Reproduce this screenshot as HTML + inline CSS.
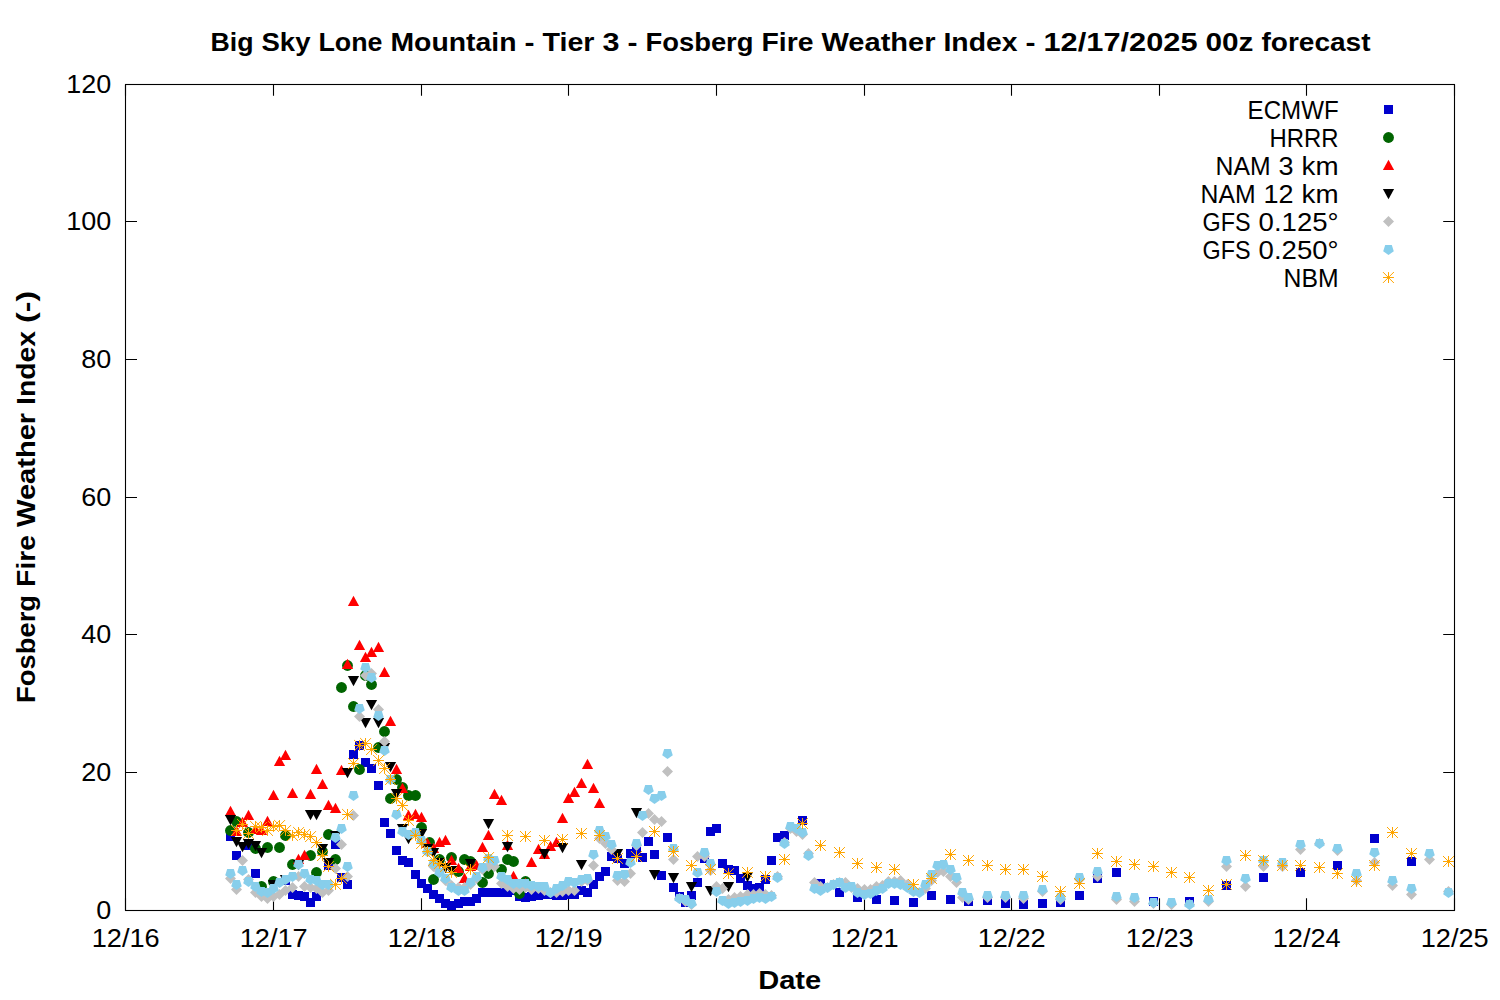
<!DOCTYPE html>
<html><head><meta charset="utf-8"><title>Fosberg Fire Weather Index</title>
<style>
html,body{margin:0;padding:0;background:#fff;}
body{width:1500px;height:1000px;overflow:hidden;}
svg{display:block;}
text{font-family:"Liberation Sans",sans-serif;fill:#000;}
</style></head><body>
<svg width="1500" height="1000" viewBox="0 0 1500 1000">
<rect width="1500" height="1000" fill="#fff"/>
<path d="M125.5 910.5h11.5M1454.5 910.5h-11.3M125.5 772.5h11.5M1454.5 772.5h-11.3M125.5 634.5h11.5M1454.5 634.5h-11.3M125.5 497.5h11.5M1454.5 497.5h-11.3M125.5 359.5h11.5M1454.5 359.5h-11.3M125.5 221.5h11.5M1454.5 221.5h-11.3M125.5 84.5h11.5M1454.5 84.5h-11.3M125.5 910.5v-12.3M125.5 84.5v11.3M273.5 910.5v-12.3M273.5 84.5v11.3M421.5 910.5v-12.3M421.5 84.5v11.3M568.5 910.5v-12.3M568.5 84.5v11.3M716.5 910.5v-12.3M716.5 84.5v11.3M864.5 910.5v-12.3M864.5 84.5v11.3M1011.5 910.5v-12.3M1011.5 84.5v11.3M1159.5 910.5v-12.3M1159.5 84.5v11.3M1306.5 910.5v-12.3M1306.5 84.5v11.3M1454.5 910.5v-12.3M1454.5 84.5v11.3" stroke="#000" stroke-width="1.1" fill="none"/>
<g fill="#0000cd">
<rect x="226" y="832" width="9" height="9"/><rect x="232" y="851" width="9" height="9"/><rect x="244" y="841" width="9" height="9"/><rect x="251" y="869" width="9" height="9"/><rect x="281" y="876" width="9" height="9"/><rect x="288" y="890" width="9" height="9"/><rect x="294" y="891" width="9" height="9"/><rect x="300" y="892" width="9" height="9"/><rect x="306" y="898" width="9" height="9"/><rect x="312" y="892" width="9" height="9"/><rect x="324" y="861" width="9" height="9"/><rect x="331" y="840" width="9" height="9"/><rect x="337" y="873" width="9" height="9"/><rect x="343" y="880" width="9" height="9"/><rect x="349" y="750" width="9" height="9"/><rect x="355" y="741" width="9" height="9"/><rect x="361" y="758" width="9" height="9"/><rect x="367" y="764" width="9" height="9"/><rect x="374" y="781" width="9" height="9"/><rect x="380" y="818" width="9" height="9"/><rect x="386" y="829" width="9" height="9"/><rect x="392" y="846" width="9" height="9"/><rect x="398" y="856" width="9" height="9"/><rect x="404" y="858" width="9" height="9"/><rect x="411" y="870" width="9" height="9"/><rect x="417" y="879" width="9" height="9"/><rect x="423" y="884" width="9" height="9"/><rect x="429" y="890" width="9" height="9"/><rect x="435" y="894" width="9" height="9"/><rect x="441" y="899" width="9" height="9"/><rect x="447" y="901" width="9" height="9"/><rect x="454" y="899" width="9" height="9"/><rect x="460" y="897" width="9" height="9"/><rect x="466" y="897" width="9" height="9"/><rect x="472" y="894" width="9" height="9"/><rect x="478" y="888" width="9" height="9"/><rect x="484" y="888" width="9" height="9"/><rect x="490" y="888" width="9" height="9"/><rect x="497" y="888" width="9" height="9"/><rect x="503" y="888" width="9" height="9"/><rect x="509" y="886" width="9" height="9"/><rect x="515" y="892" width="9" height="9"/><rect x="521" y="893" width="9" height="9"/><rect x="527" y="892" width="9" height="9"/><rect x="534" y="891" width="9" height="9"/><rect x="540" y="890" width="9" height="9"/><rect x="546" y="890" width="9" height="9"/><rect x="552" y="891" width="9" height="9"/><rect x="558" y="891" width="9" height="9"/><rect x="564" y="890" width="9" height="9"/><rect x="570" y="890" width="9" height="9"/><rect x="577" y="886" width="9" height="9"/><rect x="583" y="888" width="9" height="9"/><rect x="589" y="880" width="9" height="9"/><rect x="595" y="872" width="9" height="9"/><rect x="601" y="867" width="9" height="9"/><rect x="607" y="852" width="9" height="9"/><rect x="613" y="854" width="9" height="9"/><rect x="620" y="859" width="9" height="9"/><rect x="626" y="849" width="9" height="9"/><rect x="632" y="847" width="9" height="9"/><rect x="638" y="853" width="9" height="9"/><rect x="644" y="837" width="9" height="9"/><rect x="650" y="850" width="9" height="9"/><rect x="657" y="871" width="9" height="9"/><rect x="663" y="833" width="9" height="9"/><rect x="669" y="883" width="9" height="9"/><rect x="675" y="892" width="9" height="9"/><rect x="681" y="898" width="9" height="9"/><rect x="687" y="891" width="9" height="9"/><rect x="693" y="878" width="9" height="9"/><rect x="700" y="854" width="9" height="9"/><rect x="706" y="827" width="9" height="9"/><rect x="712" y="824" width="9" height="9"/><rect x="718" y="859" width="9" height="9"/><rect x="724" y="865" width="9" height="9"/><rect x="730" y="866" width="9" height="9"/><rect x="736" y="874" width="9" height="9"/><rect x="743" y="881" width="9" height="9"/><rect x="749" y="884" width="9" height="9"/><rect x="755" y="883" width="9" height="9"/><rect x="761" y="875" width="9" height="9"/><rect x="767" y="856" width="9" height="9"/><rect x="773" y="833" width="9" height="9"/><rect x="780" y="831" width="9" height="9"/><rect x="798" y="816" width="9" height="9"/><rect x="816" y="879" width="9" height="9"/><rect x="835" y="888" width="9" height="9"/><rect x="853" y="893" width="9" height="9"/><rect x="872" y="895" width="9" height="9"/><rect x="890" y="896" width="9" height="9"/><rect x="909" y="898" width="9" height="9"/><rect x="927" y="891" width="9" height="9"/><rect x="946" y="895" width="9" height="9"/><rect x="964" y="897" width="9" height="9"/><rect x="983" y="896" width="9" height="9"/><rect x="1001" y="899" width="9" height="9"/><rect x="1019" y="900" width="9" height="9"/><rect x="1038" y="899" width="9" height="9"/><rect x="1056" y="898" width="9" height="9"/><rect x="1075" y="891" width="9" height="9"/><rect x="1093" y="874" width="9" height="9"/><rect x="1112" y="868" width="9" height="9"/><rect x="1149" y="897" width="9" height="9"/><rect x="1185" y="897" width="9" height="9"/><rect x="1222" y="881" width="9" height="9"/><rect x="1259" y="873" width="9" height="9"/><rect x="1296" y="868" width="9" height="9"/><rect x="1333" y="861" width="9" height="9"/><rect x="1370" y="834" width="9" height="9"/><rect x="1407" y="857" width="9" height="9"/>
</g>
<g fill="#006400">
<circle cx="230.5" cy="830.5" r="5.45"/><circle cx="236.5" cy="821.5" r="5.45"/><circle cx="248.5" cy="832.5" r="5.45"/><circle cx="255.5" cy="848.5" r="5.45"/><circle cx="261.5" cy="886.5" r="5.45"/><circle cx="267.5" cy="847.5" r="5.45"/><circle cx="273.5" cy="881.5" r="5.45"/><circle cx="279.5" cy="847.5" r="5.45"/><circle cx="285.5" cy="835.5" r="5.45"/><circle cx="292.5" cy="864.5" r="5.45"/><circle cx="328.5" cy="834.5" r="5.45"/><circle cx="310.5" cy="855.5" r="5.45"/><circle cx="316.5" cy="872.5" r="5.45"/><circle cx="322.5" cy="851.5" r="5.45"/><circle cx="335.5" cy="859.5" r="5.45"/><circle cx="341.5" cy="687.5" r="5.45"/><circle cx="347.5" cy="665.5" r="5.45"/><circle cx="353.5" cy="706.5" r="5.45"/><circle cx="359.5" cy="769.5" r="5.45"/><circle cx="365.5" cy="675.5" r="5.45"/><circle cx="371.5" cy="684.5" r="5.45"/><circle cx="378.5" cy="747.5" r="5.45"/><circle cx="384.5" cy="731.5" r="5.45"/><circle cx="390.5" cy="798.5" r="5.45"/><circle cx="396.5" cy="779.5" r="5.45"/><circle cx="402.5" cy="787.5" r="5.45"/><circle cx="408.5" cy="795.5" r="5.45"/><circle cx="415.5" cy="795.5" r="5.45"/><circle cx="421.5" cy="827.5" r="5.45"/><circle cx="429.5" cy="842.5" r="5.45"/><circle cx="439.5" cy="859.5" r="5.45"/><circle cx="451.5" cy="857.5" r="5.45"/><circle cx="433.5" cy="879.5" r="5.45"/><circle cx="458.5" cy="871.5" r="5.45"/><circle cx="464.5" cy="859.5" r="5.45"/><circle cx="470.5" cy="861.5" r="5.45"/><circle cx="482.5" cy="882.5" r="5.45"/><circle cx="488.5" cy="873.5" r="5.45"/><circle cx="501.5" cy="869.5" r="5.45"/><circle cx="507.5" cy="859.5" r="5.45"/><circle cx="513.5" cy="861.5" r="5.45"/><circle cx="519.5" cy="893.5" r="5.45"/><circle cx="525.5" cy="881.5" r="5.45"/>
</g>
<g fill="#ff0000">
<path d="M230.5 805.7l5.6 10.3h-11.2z"/><path d="M236.5 825.7l5.6 10.3h-11.2z"/><path d="M242.5 816.7l5.6 10.3h-11.2z"/><path d="M248.5 809.7l5.6 10.3h-11.2z"/><path d="M255.5 823.7l5.6 10.3h-11.2z"/><path d="M261.5 824.7l5.6 10.3h-11.2z"/><path d="M267.5 815.7l5.6 10.3h-11.2z"/><path d="M273.5 789.7l5.6 10.3h-11.2z"/><path d="M279.5 755.7l5.6 10.3h-11.2z"/><path d="M285.5 749.7l5.6 10.3h-11.2z"/><path d="M292.5 787.7l5.6 10.3h-11.2z"/><path d="M310.5 788.7l5.6 10.3h-11.2z"/><path d="M316.5 763.7l5.6 10.3h-11.2z"/><path d="M322.5 778.7l5.6 10.3h-11.2z"/><path d="M328.5 799.7l5.6 10.3h-11.2z"/><path d="M335.5 802.7l5.6 10.3h-11.2z"/><path d="M341.5 764.7l5.6 10.3h-11.2z"/><path d="M298.5 853.7l5.6 10.3h-11.2z"/><path d="M304.5 849.7l5.6 10.3h-11.2z"/><path d="M347.5 658.7l5.6 10.3h-11.2z"/><path d="M353.5 595.7l5.6 10.3h-11.2z"/><path d="M359.5 639.7l5.6 10.3h-11.2z"/><path d="M365.5 651.7l5.6 10.3h-11.2z"/><path d="M371.5 646.7l5.6 10.3h-11.2z"/><path d="M378.5 641.7l5.6 10.3h-11.2z"/><path d="M384.5 666.7l5.6 10.3h-11.2z"/><path d="M390.5 715.7l5.6 10.3h-11.2z"/><path d="M396.5 763.7l5.6 10.3h-11.2z"/><path d="M402.5 782.7l5.6 10.3h-11.2z"/><path d="M408.5 809.7l5.6 10.3h-11.2z"/><path d="M415.5 808.7l5.6 10.3h-11.2z"/><path d="M421.5 811.7l5.6 10.3h-11.2z"/><path d="M427.5 837.7l5.6 10.3h-11.2z"/><path d="M433.5 842.7l5.6 10.3h-11.2z"/><path d="M439.5 836.7l5.6 10.3h-11.2z"/><path d="M445.5 834.7l5.6 10.3h-11.2z"/><path d="M451.5 854.7l5.6 10.3h-11.2z"/><path d="M458.5 862.7l5.6 10.3h-11.2z"/><path d="M464.5 872.7l5.6 10.3h-11.2z"/><path d="M470.5 860.7l5.6 10.3h-11.2z"/><path d="M476.5 859.7l5.6 10.3h-11.2z"/><path d="M482.5 841.7l5.6 10.3h-11.2z"/><path d="M488.5 829.7l5.6 10.3h-11.2z"/><path d="M507.5 839.7l5.6 10.3h-11.2z"/><path d="M513.5 870.7l5.6 10.3h-11.2z"/><path d="M494.5 788.7l5.6 10.3h-11.2z"/><path d="M501.5 794.7l5.6 10.3h-11.2z"/><path d="M525.5 877.7l5.6 10.3h-11.2z"/><path d="M531.5 856.7l5.6 10.3h-11.2z"/><path d="M538.5 843.7l5.6 10.3h-11.2z"/><path d="M544.5 848.7l5.6 10.3h-11.2z"/><path d="M550.5 840.7l5.6 10.3h-11.2z"/><path d="M556.5 836.7l5.6 10.3h-11.2z"/><path d="M562.5 812.7l5.6 10.3h-11.2z"/><path d="M568.5 792.7l5.6 10.3h-11.2z"/><path d="M574.5 786.7l5.6 10.3h-11.2z"/><path d="M581.5 777.7l5.6 10.3h-11.2z"/><path d="M587.5 758.7l5.6 10.3h-11.2z"/><path d="M593.5 782.7l5.6 10.3h-11.2z"/><path d="M599.5 797.7l5.6 10.3h-11.2z"/>
</g>
<g fill="#000000">
<path d="M224.9 815h11.2l-5.6 10.3z"/><path d="M230.9 837h11.2l-5.6 10.3z"/><path d="M236.9 842h11.2l-5.6 10.3z"/><path d="M242.9 839h11.2l-5.6 10.3z"/><path d="M249.9 841h11.2l-5.6 10.3z"/><path d="M255.9 848h11.2l-5.6 10.3z"/><path d="M267.9 880h11.2l-5.6 10.3z"/><path d="M279.9 875h11.2l-5.6 10.3z"/><path d="M292.9 860h11.2l-5.6 10.3z"/><path d="M304.9 810h11.2l-5.6 10.3z"/><path d="M310.9 810h11.2l-5.6 10.3z"/><path d="M316.9 844h11.2l-5.6 10.3z"/><path d="M322.9 858h11.2l-5.6 10.3z"/><path d="M329.9 831h11.2l-5.6 10.3z"/><path d="M341.9 768h11.2l-5.6 10.3z"/><path d="M347.9 676h11.2l-5.6 10.3z"/><path d="M359.9 718h11.2l-5.6 10.3z"/><path d="M365.9 700h11.2l-5.6 10.3z"/><path d="M372.9 718h11.2l-5.6 10.3z"/><path d="M378.9 743h11.2l-5.6 10.3z"/><path d="M384.9 762h11.2l-5.6 10.3z"/><path d="M390.9 789h11.2l-5.6 10.3z"/><path d="M396.9 824h11.2l-5.6 10.3z"/><path d="M402.9 834h11.2l-5.6 10.3z"/><path d="M415.9 829h11.2l-5.6 10.3z"/><path d="M421.9 844h11.2l-5.6 10.3z"/><path d="M427.9 848h11.2l-5.6 10.3z"/><path d="M433.9 858h11.2l-5.6 10.3z"/><path d="M439.9 863h11.2l-5.6 10.3z"/><path d="M445.9 866h11.2l-5.6 10.3z"/><path d="M464.9 859h11.2l-5.6 10.3z"/><path d="M482.9 819h11.2l-5.6 10.3z"/><path d="M501.9 842h11.2l-5.6 10.3z"/><path d="M538.9 849h11.2l-5.6 10.3z"/><path d="M556.9 843h11.2l-5.6 10.3z"/><path d="M575.9 860h11.2l-5.6 10.3z"/><path d="M611.9 849h11.2l-5.6 10.3z"/><path d="M630.9 808h11.2l-5.6 10.3z"/><path d="M648.9 870h11.2l-5.6 10.3z"/><path d="M667.9 873h11.2l-5.6 10.3z"/><path d="M685.9 882h11.2l-5.6 10.3z"/><path d="M704.9 886h11.2l-5.6 10.3z"/><path d="M722.9 882h11.2l-5.6 10.3z"/><path d="M741.9 872h11.2l-5.6 10.3z"/>
</g>
<g fill="#c0c0c0">
<path d="M230.5 873l5.5 5.5l-5.5 5.5l-5.5-5.5z"/><path d="M236.5 884l5.5 5.5l-5.5 5.5l-5.5-5.5z"/><path d="M242.5 855l5.5 5.5l-5.5 5.5l-5.5-5.5z"/><path d="M248.5 874l5.5 5.5l-5.5 5.5l-5.5-5.5z"/><path d="M255.5 887l5.5 5.5l-5.5 5.5l-5.5-5.5z"/><path d="M261.5 891l5.5 5.5l-5.5 5.5l-5.5-5.5z"/><path d="M267.5 893l5.5 5.5l-5.5 5.5l-5.5-5.5z"/><path d="M273.5 891l5.5 5.5l-5.5 5.5l-5.5-5.5z"/><path d="M279.5 889l5.5 5.5l-5.5 5.5l-5.5-5.5z"/><path d="M285.5 885l5.5 5.5l-5.5 5.5l-5.5-5.5z"/><path d="M292.5 882l5.5 5.5l-5.5 5.5l-5.5-5.5z"/><path d="M298.5 871l5.5 5.5l-5.5 5.5l-5.5-5.5z"/><path d="M304.5 881l5.5 5.5l-5.5 5.5l-5.5-5.5z"/><path d="M310.5 882l5.5 5.5l-5.5 5.5l-5.5-5.5z"/><path d="M316.5 883l5.5 5.5l-5.5 5.5l-5.5-5.5z"/><path d="M322.5 887l5.5 5.5l-5.5 5.5l-5.5-5.5z"/><path d="M328.5 885l5.5 5.5l-5.5 5.5l-5.5-5.5z"/><path d="M335.5 863l5.5 5.5l-5.5 5.5l-5.5-5.5z"/><path d="M341.5 839l5.5 5.5l-5.5 5.5l-5.5-5.5z"/><path d="M347.5 871l5.5 5.5l-5.5 5.5l-5.5-5.5z"/><path d="M353.5 810l5.5 5.5l-5.5 5.5l-5.5-5.5z"/><path d="M359.5 711l5.5 5.5l-5.5 5.5l-5.5-5.5z"/><path d="M365.5 670l5.5 5.5l-5.5 5.5l-5.5-5.5z"/><path d="M371.5 668l5.5 5.5l-5.5 5.5l-5.5-5.5z"/><path d="M378.5 704l5.5 5.5l-5.5 5.5l-5.5-5.5z"/><path d="M384.5 736l5.5 5.5l-5.5 5.5l-5.5-5.5z"/><path d="M433.5 861l5.5 5.5l-5.5 5.5l-5.5-5.5z"/><path d="M439.5 866l5.5 5.5l-5.5 5.5l-5.5-5.5z"/><path d="M445.5 875l5.5 5.5l-5.5 5.5l-5.5-5.5z"/><path d="M451.5 880l5.5 5.5l-5.5 5.5l-5.5-5.5z"/><path d="M458.5 882l5.5 5.5l-5.5 5.5l-5.5-5.5z"/><path d="M464.5 882l5.5 5.5l-5.5 5.5l-5.5-5.5z"/><path d="M470.5 879l5.5 5.5l-5.5 5.5l-5.5-5.5z"/><path d="M476.5 873l5.5 5.5l-5.5 5.5l-5.5-5.5z"/><path d="M482.5 864l5.5 5.5l-5.5 5.5l-5.5-5.5z"/><path d="M488.5 861l5.5 5.5l-5.5 5.5l-5.5-5.5z"/><path d="M494.5 861l5.5 5.5l-5.5 5.5l-5.5-5.5z"/><path d="M501.5 878l5.5 5.5l-5.5 5.5l-5.5-5.5z"/><path d="M507.5 881l5.5 5.5l-5.5 5.5l-5.5-5.5z"/><path d="M513.5 883l5.5 5.5l-5.5 5.5l-5.5-5.5z"/><path d="M519.5 884l5.5 5.5l-5.5 5.5l-5.5-5.5z"/><path d="M525.5 882l5.5 5.5l-5.5 5.5l-5.5-5.5z"/><path d="M531.5 884l5.5 5.5l-5.5 5.5l-5.5-5.5z"/><path d="M538.5 883l5.5 5.5l-5.5 5.5l-5.5-5.5z"/><path d="M544.5 885l5.5 5.5l-5.5 5.5l-5.5-5.5z"/><path d="M550.5 887l5.5 5.5l-5.5 5.5l-5.5-5.5z"/><path d="M556.5 887l5.5 5.5l-5.5 5.5l-5.5-5.5z"/><path d="M562.5 886l5.5 5.5l-5.5 5.5l-5.5-5.5z"/><path d="M568.5 885l5.5 5.5l-5.5 5.5l-5.5-5.5z"/><path d="M574.5 885l5.5 5.5l-5.5 5.5l-5.5-5.5z"/><path d="M581.5 876l5.5 5.5l-5.5 5.5l-5.5-5.5z"/><path d="M587.5 875l5.5 5.5l-5.5 5.5l-5.5-5.5z"/><path d="M593.5 860l5.5 5.5l-5.5 5.5l-5.5-5.5z"/><path d="M599.5 833l5.5 5.5l-5.5 5.5l-5.5-5.5z"/><path d="M605.5 838l5.5 5.5l-5.5 5.5l-5.5-5.5z"/><path d="M611.5 844l5.5 5.5l-5.5 5.5l-5.5-5.5z"/><path d="M617.5 875l5.5 5.5l-5.5 5.5l-5.5-5.5z"/><path d="M624.5 876l5.5 5.5l-5.5 5.5l-5.5-5.5z"/><path d="M630.5 868l5.5 5.5l-5.5 5.5l-5.5-5.5z"/><path d="M636.5 840l5.5 5.5l-5.5 5.5l-5.5-5.5z"/><path d="M642.5 827l5.5 5.5l-5.5 5.5l-5.5-5.5z"/><path d="M648.5 808l5.5 5.5l-5.5 5.5l-5.5-5.5z"/><path d="M654.5 814l5.5 5.5l-5.5 5.5l-5.5-5.5z"/><path d="M661.5 816l5.5 5.5l-5.5 5.5l-5.5-5.5z"/><path d="M667.5 766l5.5 5.5l-5.5 5.5l-5.5-5.5z"/><path d="M673.5 854l5.5 5.5l-5.5 5.5l-5.5-5.5z"/><path d="M679.5 893l5.5 5.5l-5.5 5.5l-5.5-5.5z"/><path d="M685.5 896l5.5 5.5l-5.5 5.5l-5.5-5.5z"/><path d="M691.5 899l5.5 5.5l-5.5 5.5l-5.5-5.5z"/><path d="M697.5 851l5.5 5.5l-5.5 5.5l-5.5-5.5z"/><path d="M704.5 851l5.5 5.5l-5.5 5.5l-5.5-5.5z"/><path d="M710.5 865l5.5 5.5l-5.5 5.5l-5.5-5.5z"/><path d="M716.5 881l5.5 5.5l-5.5 5.5l-5.5-5.5z"/><path d="M722.5 883l5.5 5.5l-5.5 5.5l-5.5-5.5z"/><path d="M728.5 894l5.5 5.5l-5.5 5.5l-5.5-5.5z"/><path d="M734.5 892l5.5 5.5l-5.5 5.5l-5.5-5.5z"/><path d="M740.5 891l5.5 5.5l-5.5 5.5l-5.5-5.5z"/><path d="M747.5 889l5.5 5.5l-5.5 5.5l-5.5-5.5z"/><path d="M753.5 889l5.5 5.5l-5.5 5.5l-5.5-5.5z"/><path d="M759.5 888l5.5 5.5l-5.5 5.5l-5.5-5.5z"/><path d="M765.5 889l5.5 5.5l-5.5 5.5l-5.5-5.5z"/><path d="M771.5 890l5.5 5.5l-5.5 5.5l-5.5-5.5z"/><path d="M777.5 871l5.5 5.5l-5.5 5.5l-5.5-5.5z"/><path d="M784.5 837l5.5 5.5l-5.5 5.5l-5.5-5.5z"/><path d="M790.5 823l5.5 5.5l-5.5 5.5l-5.5-5.5z"/><path d="M796.5 826l5.5 5.5l-5.5 5.5l-5.5-5.5z"/><path d="M802.5 829l5.5 5.5l-5.5 5.5l-5.5-5.5z"/><path d="M808.5 848l5.5 5.5l-5.5 5.5l-5.5-5.5z"/><path d="M814.5 877l5.5 5.5l-5.5 5.5l-5.5-5.5z"/><path d="M820.5 881l5.5 5.5l-5.5 5.5l-5.5-5.5z"/><path d="M827.5 882l5.5 5.5l-5.5 5.5l-5.5-5.5z"/><path d="M833.5 879l5.5 5.5l-5.5 5.5l-5.5-5.5z"/><path d="M839.5 877l5.5 5.5l-5.5 5.5l-5.5-5.5z"/><path d="M845.5 877l5.5 5.5l-5.5 5.5l-5.5-5.5z"/><path d="M851.5 882l5.5 5.5l-5.5 5.5l-5.5-5.5z"/><path d="M857.5 883l5.5 5.5l-5.5 5.5l-5.5-5.5z"/><path d="M864.5 884l5.5 5.5l-5.5 5.5l-5.5-5.5z"/><path d="M870.5 884l5.5 5.5l-5.5 5.5l-5.5-5.5z"/><path d="M876.5 881l5.5 5.5l-5.5 5.5l-5.5-5.5z"/><path d="M882.5 880l5.5 5.5l-5.5 5.5l-5.5-5.5z"/><path d="M888.5 876l5.5 5.5l-5.5 5.5l-5.5-5.5z"/><path d="M894.5 876l5.5 5.5l-5.5 5.5l-5.5-5.5z"/><path d="M900.5 875l5.5 5.5l-5.5 5.5l-5.5-5.5z"/><path d="M907.5 879l5.5 5.5l-5.5 5.5l-5.5-5.5z"/><path d="M913.5 885l5.5 5.5l-5.5 5.5l-5.5-5.5z"/><path d="M919.5 887l5.5 5.5l-5.5 5.5l-5.5-5.5z"/><path d="M925.5 883l5.5 5.5l-5.5 5.5l-5.5-5.5z"/><path d="M931.5 875l5.5 5.5l-5.5 5.5l-5.5-5.5z"/><path d="M937.5 867l5.5 5.5l-5.5 5.5l-5.5-5.5z"/><path d="M943.5 866l5.5 5.5l-5.5 5.5l-5.5-5.5z"/><path d="M950.5 871l5.5 5.5l-5.5 5.5l-5.5-5.5z"/><path d="M956.5 877l5.5 5.5l-5.5 5.5l-5.5-5.5z"/><path d="M962.5 892l5.5 5.5l-5.5 5.5l-5.5-5.5z"/><path d="M968.5 894l5.5 5.5l-5.5 5.5l-5.5-5.5z"/><path d="M987.5 892l5.5 5.5l-5.5 5.5l-5.5-5.5z"/><path d="M1005.5 892l5.5 5.5l-5.5 5.5l-5.5-5.5z"/><path d="M1023.5 893l5.5 5.5l-5.5 5.5l-5.5-5.5z"/><path d="M1042.5 886l5.5 5.5l-5.5 5.5l-5.5-5.5z"/><path d="M1060.5 894l5.5 5.5l-5.5 5.5l-5.5-5.5z"/><path d="M1079.5 874l5.5 5.5l-5.5 5.5l-5.5-5.5z"/><path d="M1097.5 871l5.5 5.5l-5.5 5.5l-5.5-5.5z"/><path d="M1116.5 894l5.5 5.5l-5.5 5.5l-5.5-5.5z"/><path d="M1134.5 896l5.5 5.5l-5.5 5.5l-5.5-5.5z"/><path d="M1153.5 898l5.5 5.5l-5.5 5.5l-5.5-5.5z"/><path d="M1171.5 899l5.5 5.5l-5.5 5.5l-5.5-5.5z"/><path d="M1189.5 899l5.5 5.5l-5.5 5.5l-5.5-5.5z"/><path d="M1208.5 896l5.5 5.5l-5.5 5.5l-5.5-5.5z"/><path d="M1226.5 861l5.5 5.5l-5.5 5.5l-5.5-5.5z"/><path d="M1245.5 881l5.5 5.5l-5.5 5.5l-5.5-5.5z"/><path d="M1263.5 861l5.5 5.5l-5.5 5.5l-5.5-5.5z"/><path d="M1282.5 861l5.5 5.5l-5.5 5.5l-5.5-5.5z"/><path d="M1300.5 844l5.5 5.5l-5.5 5.5l-5.5-5.5z"/><path d="M1319.5 838l5.5 5.5l-5.5 5.5l-5.5-5.5z"/><path d="M1337.5 845l5.5 5.5l-5.5 5.5l-5.5-5.5z"/><path d="M1356.5 875l5.5 5.5l-5.5 5.5l-5.5-5.5z"/><path d="M1374.5 857l5.5 5.5l-5.5 5.5l-5.5-5.5z"/><path d="M1392.5 880l5.5 5.5l-5.5 5.5l-5.5-5.5z"/><path d="M1411.5 889l5.5 5.5l-5.5 5.5l-5.5-5.5z"/><path d="M1429.5 854l5.5 5.5l-5.5 5.5l-5.5-5.5z"/><path d="M1448.5 886l5.5 5.5l-5.5 5.5l-5.5-5.5z"/>
</g>
<g fill="#87ceeb">
<path d="M230.5 879L225.2 875.2L227.2 869L233.8 869L235.8 875.2z"/><path d="M236.5 890L231.2 886.2L233.2 880L239.8 880L241.8 886.2z"/><path d="M242.5 876L237.2 872.2L239.2 866L245.8 866L247.8 872.2z"/><path d="M248.5 887L243.2 883.2L245.2 877L251.8 877L253.8 883.2z"/><path d="M255.5 892L250.2 888.2L252.2 882L258.8 882L260.8 888.2z"/><path d="M261.5 897L256.2 893.2L258.2 887L264.8 887L266.8 893.2z"/><path d="M267.5 898L262.2 894.2L264.2 888L270.8 888L272.8 894.2z"/><path d="M273.5 894L268.2 890.2L270.2 884L276.8 884L278.8 890.2z"/><path d="M279.5 888L274.2 884.2L276.2 878L282.8 878L284.8 884.2z"/><path d="M285.5 885L280.2 881.2L282.2 875L288.8 875L290.8 881.2z"/><path d="M292.5 882L287.2 878.2L289.2 872L295.8 872L297.8 878.2z"/><path d="M298.5 870L293.2 866.2L295.2 860L301.8 860L303.8 866.2z"/><path d="M304.5 879L299.2 875.2L301.2 869L307.8 869L309.8 875.2z"/><path d="M310.5 885L305.2 881.2L307.2 875L313.8 875L315.8 881.2z"/><path d="M316.5 886L311.2 882.2L313.2 876L319.8 876L321.8 882.2z"/><path d="M322.5 890L317.2 886.2L319.2 880L325.8 880L327.8 886.2z"/><path d="M328.5 890L323.2 886.2L325.2 880L331.8 880L333.8 886.2z"/><path d="M335.5 843L330.2 839.2L332.2 833L338.8 833L340.8 839.2z"/><path d="M341.5 834L336.2 830.2L338.2 824L344.8 824L346.8 830.2z"/><path d="M347.5 872L342.2 868.2L344.2 862L350.8 862L352.8 868.2z"/><path d="M353.5 801L348.2 797.2L350.2 791L356.8 791L358.8 797.2z"/><path d="M359.5 714L354.2 710.2L356.2 704L362.8 704L364.8 710.2z"/><path d="M365.5 673L360.2 669.2L362.2 663L368.8 663L370.8 669.2z"/><path d="M371.5 683L366.2 679.2L368.2 673L374.8 673L376.8 679.2z"/><path d="M378.5 721L373.2 717.2L375.2 711L381.8 711L383.8 717.2z"/><path d="M384.5 756L379.2 752.2L381.2 746L387.8 746L389.8 752.2z"/><path d="M390.5 785L385.2 781.2L387.2 775L393.8 775L395.8 781.2z"/><path d="M396.5 820L391.2 816.2L393.2 810L399.8 810L401.8 816.2z"/><path d="M402.5 837L397.2 833.2L399.2 827L405.8 827L407.8 833.2z"/><path d="M408.5 840L403.2 836.2L405.2 830L411.8 830L413.8 836.2z"/><path d="M415.5 838L410.2 834.2L412.2 828L418.8 828L420.8 834.2z"/><path d="M421.5 846L416.2 842.2L418.2 836L424.8 836L426.8 842.2z"/><path d="M427.5 857L422.2 853.2L424.2 847L430.8 847L432.8 853.2z"/><path d="M433.5 869L428.2 865.2L430.2 859L436.8 859L438.8 865.2z"/><path d="M439.5 878L434.2 874.2L436.2 868L442.8 868L444.8 874.2z"/><path d="M445.5 884L440.2 880.2L442.2 874L448.8 874L450.8 880.2z"/><path d="M451.5 893L446.2 889.2L448.2 883L454.8 883L456.8 889.2z"/><path d="M458.5 896L453.2 892.2L455.2 886L461.8 886L463.8 892.2z"/><path d="M464.5 896L459.2 892.2L461.2 886L467.8 886L469.8 892.2z"/><path d="M470.5 888L465.2 884.2L467.2 878L473.8 878L475.8 884.2z"/><path d="M476.5 882L471.2 878.2L473.2 872L479.8 872L481.8 878.2z"/><path d="M482.5 873L477.2 869.2L479.2 863L485.8 863L487.8 869.2z"/><path d="M488.5 864L483.2 860.2L485.2 854L491.8 854L493.8 860.2z"/><path d="M494.5 866L489.2 862.2L491.2 856L497.8 856L499.8 862.2z"/><path d="M501.5 882L496.2 878.2L498.2 872L504.8 872L506.8 878.2z"/><path d="M507.5 885L502.2 881.2L504.2 875L510.8 875L512.8 881.2z"/><path d="M513.5 889L508.2 885.2L510.2 879L516.8 879L518.8 885.2z"/><path d="M519.5 889L514.2 885.2L516.2 879L522.8 879L524.8 885.2z"/><path d="M525.5 889L520.2 885.2L522.2 879L528.8 879L530.8 885.2z"/><path d="M531.5 891L526.2 887.2L528.2 881L534.8 881L536.8 887.2z"/><path d="M538.5 892L533.2 888.2L535.2 882L541.8 882L543.8 888.2z"/><path d="M544.5 892L539.2 888.2L541.2 882L547.8 882L549.8 888.2z"/><path d="M550.5 898L545.2 894.2L547.2 888L553.8 888L555.8 894.2z"/><path d="M556.5 894L551.2 890.2L553.2 884L559.8 884L561.8 890.2z"/><path d="M562.5 891L557.2 887.2L559.2 881L565.8 881L567.8 887.2z"/><path d="M568.5 887L563.2 883.2L565.2 877L571.8 877L573.8 883.2z"/><path d="M574.5 888L569.2 884.2L571.2 878L577.8 878L579.8 884.2z"/><path d="M581.5 885L576.2 881.2L578.2 875L584.8 875L586.8 881.2z"/><path d="M587.5 884L582.2 880.2L584.2 874L590.8 874L592.8 880.2z"/><path d="M593.5 860L588.2 856.2L590.2 850L596.8 850L598.8 856.2z"/><path d="M599.5 836L594.2 832.2L596.2 826L602.8 826L604.8 832.2z"/><path d="M605.5 842L600.2 838.2L602.2 832L608.8 832L610.8 838.2z"/><path d="M611.5 850L606.2 846.2L608.2 840L614.8 840L616.8 846.2z"/><path d="M617.5 881L612.2 877.2L614.2 871L620.8 871L622.8 877.2z"/><path d="M624.5 880L619.2 876.2L621.2 870L627.8 870L629.8 876.2z"/><path d="M630.5 868L625.2 864.2L627.2 858L633.8 858L635.8 864.2z"/><path d="M636.5 849L631.2 845.2L633.2 839L639.8 839L641.8 845.2z"/><path d="M642.5 821L637.2 817.2L639.2 811L645.8 811L647.8 817.2z"/><path d="M648.5 795L643.2 791.2L645.2 785L651.8 785L653.8 791.2z"/><path d="M654.5 804L649.2 800.2L651.2 794L657.8 794L659.8 800.2z"/><path d="M661.5 801L656.2 797.2L658.2 791L664.8 791L666.8 797.2z"/><path d="M667.5 759L662.2 755.2L664.2 749L670.8 749L672.8 755.2z"/><path d="M673.5 854L668.2 850.2L670.2 844L676.8 844L678.8 850.2z"/><path d="M679.5 904L674.2 900.2L676.2 894L682.8 894L684.8 900.2z"/><path d="M685.5 905L680.2 901.2L682.2 895L688.8 895L690.8 901.2z"/><path d="M691.5 909L686.2 905.2L688.2 899L694.8 899L696.8 905.2z"/><path d="M697.5 878L692.2 874.2L694.2 868L700.8 868L702.8 874.2z"/><path d="M704.5 858L699.2 854.2L701.2 848L707.8 848L709.8 854.2z"/><path d="M710.5 869L705.2 865.2L707.2 859L713.8 859L715.8 865.2z"/><path d="M716.5 897L711.2 893.2L713.2 887L719.8 887L721.8 893.2z"/><path d="M722.5 906L717.2 902.2L719.2 896L725.8 896L727.8 902.2z"/><path d="M728.5 909L723.2 905.2L725.2 899L731.8 899L733.8 905.2z"/><path d="M734.5 908L729.2 904.2L731.2 898L737.8 898L739.8 904.2z"/><path d="M740.5 907L735.2 903.2L737.2 897L743.8 897L745.8 903.2z"/><path d="M747.5 906L742.2 902.2L744.2 896L750.8 896L752.8 902.2z"/><path d="M753.5 904L748.2 900.2L750.2 894L756.8 894L758.8 900.2z"/><path d="M759.5 903L754.2 899.2L756.2 893L762.8 893L764.8 899.2z"/><path d="M765.5 904L760.2 900.2L762.2 894L768.8 894L770.8 900.2z"/><path d="M771.5 902L766.2 898.2L768.2 892L774.8 892L776.8 898.2z"/><path d="M777.5 883L772.2 879.2L774.2 873L780.8 873L782.8 879.2z"/><path d="M784.5 849L779.2 845.2L781.2 839L787.8 839L789.8 845.2z"/><path d="M790.5 832L785.2 828.2L787.2 822L793.8 822L795.8 828.2z"/><path d="M796.5 834L791.2 830.2L793.2 824L799.8 824L801.8 830.2z"/><path d="M802.5 838L797.2 834.2L799.2 828L805.8 828L807.8 834.2z"/><path d="M808.5 861L803.2 857.2L805.2 851L811.8 851L813.8 857.2z"/><path d="M814.5 894L809.2 890.2L811.2 884L817.8 884L819.8 890.2z"/><path d="M820.5 896L815.2 892.2L817.2 886L823.8 886L825.8 892.2z"/><path d="M827.5 893L822.2 889.2L824.2 883L830.8 883L832.8 889.2z"/><path d="M833.5 890L828.2 886.2L830.2 880L836.8 880L838.8 886.2z"/><path d="M839.5 888L834.2 884.2L836.2 878L842.8 878L844.8 884.2z"/><path d="M845.5 893L840.2 889.2L842.2 883L848.8 883L850.8 889.2z"/><path d="M851.5 892L846.2 888.2L848.2 882L854.8 882L856.8 888.2z"/><path d="M857.5 898L852.2 894.2L854.2 888L860.8 888L862.8 894.2z"/><path d="M864.5 900L859.2 896.2L861.2 890L867.8 890L869.8 896.2z"/><path d="M870.5 899L865.2 895.2L867.2 889L873.8 889L875.8 895.2z"/><path d="M876.5 896L871.2 892.2L873.2 886L879.8 886L881.8 892.2z"/><path d="M882.5 894L877.2 890.2L879.2 884L885.8 884L887.8 890.2z"/><path d="M888.5 889L883.2 885.2L885.2 879L891.8 879L893.8 885.2z"/><path d="M894.5 889L889.2 885.2L891.2 879L897.8 879L899.8 885.2z"/><path d="M900.5 890L895.2 886.2L897.2 880L903.8 880L905.8 886.2z"/><path d="M907.5 893L902.2 889.2L904.2 883L910.8 883L912.8 889.2z"/><path d="M913.5 897L908.2 893.2L910.2 887L916.8 887L918.8 893.2z"/><path d="M919.5 898L914.2 894.2L916.2 888L922.8 888L924.8 894.2z"/><path d="M925.5 890L920.2 886.2L922.2 880L928.8 880L930.8 886.2z"/><path d="M931.5 880L926.2 876.2L928.2 870L934.8 870L936.8 876.2z"/><path d="M937.5 871L932.2 867.2L934.2 861L940.8 861L942.8 867.2z"/><path d="M943.5 870L938.2 866.2L940.2 860L946.8 860L948.8 866.2z"/><path d="M950.5 875L945.2 871.2L947.2 865L953.8 865L955.8 871.2z"/><path d="M956.5 883L951.2 879.2L953.2 873L959.8 873L961.8 879.2z"/><path d="M962.5 898L957.2 894.2L959.2 888L965.8 888L967.8 894.2z"/><path d="M968.5 903L963.2 899.2L965.2 893L971.8 893L973.8 899.2z"/><path d="M987.5 901L982.2 897.2L984.2 891L990.8 891L992.8 897.2z"/><path d="M1005.5 901L1000.2 897.2L1002.2 891L1008.8 891L1010.8 897.2z"/><path d="M1023.5 901L1018.2 897.2L1020.2 891L1026.8 891L1028.8 897.2z"/><path d="M1042.5 895L1037.2 891.2L1039.2 885L1045.8 885L1047.8 891.2z"/><path d="M1060.5 903L1055.2 899.2L1057.2 893L1063.8 893L1065.8 899.2z"/><path d="M1079.5 883L1074.2 879.2L1076.2 873L1082.8 873L1084.8 879.2z"/><path d="M1097.5 877L1092.2 873.2L1094.2 867L1100.8 867L1102.8 873.2z"/><path d="M1116.5 902L1111.2 898.2L1113.2 892L1119.8 892L1121.8 898.2z"/><path d="M1134.5 903L1129.2 899.2L1131.2 893L1137.8 893L1139.8 899.2z"/><path d="M1153.5 908L1148.2 904.2L1150.2 898L1156.8 898L1158.8 904.2z"/><path d="M1171.5 908L1166.2 904.2L1168.2 898L1174.8 898L1176.8 904.2z"/><path d="M1189.5 910L1184.2 906.2L1186.2 900L1192.8 900L1194.8 906.2z"/><path d="M1208.5 905L1203.2 901.2L1205.2 895L1211.8 895L1213.8 901.2z"/><path d="M1226.5 866L1221.2 862.2L1223.2 856L1229.8 856L1231.8 862.2z"/><path d="M1245.5 884L1240.2 880.2L1242.2 874L1248.8 874L1250.8 880.2z"/><path d="M1263.5 866L1258.2 862.2L1260.2 856L1266.8 856L1268.8 862.2z"/><path d="M1282.5 868L1277.2 864.2L1279.2 858L1285.8 858L1287.8 864.2z"/><path d="M1300.5 850L1295.2 846.2L1297.2 840L1303.8 840L1305.8 846.2z"/><path d="M1319.5 849L1314.2 845.2L1316.2 839L1322.8 839L1324.8 845.2z"/><path d="M1337.5 854L1332.2 850.2L1334.2 844L1340.8 844L1342.8 850.2z"/><path d="M1356.5 879L1351.2 875.2L1353.2 869L1359.8 869L1361.8 875.2z"/><path d="M1374.5 858L1369.2 854.2L1371.2 848L1377.8 848L1379.8 854.2z"/><path d="M1392.5 886L1387.2 882.2L1389.2 876L1395.8 876L1397.8 882.2z"/><path d="M1411.5 894L1406.2 890.2L1408.2 884L1414.8 884L1416.8 890.2z"/><path d="M1429.5 859L1424.2 855.2L1426.2 849L1432.8 849L1434.8 855.2z"/><path d="M1448.5 898L1443.2 894.2L1445.2 888L1451.8 888L1453.8 894.2z"/>
</g>
<g stroke="#ffa500" stroke-width="1" fill="none" stroke-linecap="butt">
<path d="M231.1 830.5h10.9M236.5 825v10.9M231.1 825l10.9 10.9M231.1 836l10.9 -10.9"/><path d="M237.1 824.5h10.9M242.5 819v10.9M237.1 819l10.9 10.9M237.1 830l10.9 -10.9"/><path d="M243.1 833.5h10.9M248.5 828v10.9M243.1 828l10.9 10.9M243.1 839l10.9 -10.9"/><path d="M250.1 826.5h10.9M255.5 821v10.9M250.1 821l10.9 10.9M250.1 832l10.9 -10.9"/><path d="M256.1 827.5h10.9M261.5 822v10.9M256.1 822l10.9 10.9M256.1 833l10.9 -10.9"/><path d="M262.1 830.5h10.9M267.5 825v10.9M262.1 825l10.9 10.9M262.1 836l10.9 -10.9"/><path d="M268.1 826.5h10.9M273.5 821v10.9M268.1 821l10.9 10.9M268.1 832l10.9 -10.9"/><path d="M274.1 825.5h10.9M279.5 820v10.9M274.1 820l10.9 10.9M274.1 831l10.9 -10.9"/><path d="M280.1 830.5h10.9M285.5 825v10.9M280.1 825l10.9 10.9M280.1 836l10.9 -10.9"/><path d="M287.1 835.5h10.9M292.5 830v10.9M287.1 830l10.9 10.9M287.1 841l10.9 -10.9"/><path d="M293.1 832.5h10.9M298.5 827v10.9M293.1 827l10.9 10.9M293.1 838l10.9 -10.9"/><path d="M299.1 834.5h10.9M304.5 829v10.9M299.1 829l10.9 10.9M299.1 840l10.9 -10.9"/><path d="M305.1 836.5h10.9M310.5 831v10.9M305.1 831l10.9 10.9M305.1 842l10.9 -10.9"/><path d="M311.1 842.5h10.9M316.5 837v10.9M311.1 837l10.9 10.9M311.1 848l10.9 -10.9"/><path d="M317.1 855.5h10.9M322.5 850v10.9M317.1 850l10.9 10.9M317.1 861l10.9 -10.9"/><path d="M323.1 866.5h10.9M328.5 861v10.9M323.1 861l10.9 10.9M323.1 872l10.9 -10.9"/><path d="M330.1 884.5h10.9M335.5 879v10.9M330.1 879l10.9 10.9M330.1 890l10.9 -10.9"/><path d="M336.1 878.5h10.9M341.5 873v10.9M336.1 873l10.9 10.9M336.1 884l10.9 -10.9"/><path d="M342.1 814.5h10.9M347.5 809v10.9M342.1 809l10.9 10.9M342.1 820l10.9 -10.9"/><path d="M348.1 763.5h10.9M353.5 758v10.9M348.1 758l10.9 10.9M348.1 769l10.9 -10.9"/><path d="M354.1 745.5h10.9M359.5 740v10.9M354.1 740l10.9 10.9M354.1 751l10.9 -10.9"/><path d="M360.1 743.5h10.9M365.5 738v10.9M360.1 738l10.9 10.9M360.1 749l10.9 -10.9"/><path d="M366.1 749.5h10.9M371.5 744v10.9M366.1 744l10.9 10.9M366.1 755l10.9 -10.9"/><path d="M373.1 760.5h10.9M378.5 755v10.9M373.1 755l10.9 10.9M373.1 766l10.9 -10.9"/><path d="M379.1 768.5h10.9M384.5 763v10.9M379.1 763l10.9 10.9M379.1 774l10.9 -10.9"/><path d="M385.1 779.5h10.9M390.5 774v10.9M385.1 774l10.9 10.9M385.1 785l10.9 -10.9"/><path d="M391.1 798.5h10.9M396.5 793v10.9M391.1 793l10.9 10.9M391.1 804l10.9 -10.9"/><path d="M397.1 805.5h10.9M402.5 800v10.9M397.1 800l10.9 10.9M397.1 811l10.9 -10.9"/><path d="M403.1 820.5h10.9M408.5 815v10.9M403.1 815l10.9 10.9M403.1 826l10.9 -10.9"/><path d="M410.1 835.5h10.9M415.5 830v10.9M410.1 830l10.9 10.9M410.1 841l10.9 -10.9"/><path d="M416.1 843.5h10.9M421.5 838v10.9M416.1 838l10.9 10.9M416.1 849l10.9 -10.9"/><path d="M422.1 851.5h10.9M427.5 846v10.9M422.1 846l10.9 10.9M422.1 857l10.9 -10.9"/><path d="M428.1 860.5h10.9M433.5 855v10.9M428.1 855l10.9 10.9M428.1 866l10.9 -10.9"/><path d="M434.1 863.5h10.9M439.5 858v10.9M434.1 858l10.9 10.9M434.1 869l10.9 -10.9"/><path d="M440.1 866.5h10.9M445.5 861v10.9M440.1 861l10.9 10.9M440.1 872l10.9 -10.9"/><path d="M446.1 872.5h10.9M451.5 867v10.9M446.1 867l10.9 10.9M446.1 878l10.9 -10.9"/><path d="M465.1 869.5h10.9M470.5 864v10.9M465.1 864l10.9 10.9M465.1 875l10.9 -10.9"/><path d="M483.1 857.5h10.9M488.5 852v10.9M483.1 852l10.9 10.9M483.1 863l10.9 -10.9"/><path d="M502.1 835.5h10.9M507.5 830v10.9M502.1 830l10.9 10.9M502.1 841l10.9 -10.9"/><path d="M520 836.5h10.9M525.5 831v10.9M520 831l10.9 10.9M520 842l10.9 -10.9"/><path d="M539 840.5h10.9M544.5 835v10.9M539 835l10.9 10.9M539 846l10.9 -10.9"/><path d="M557 839.5h10.9M562.5 834v10.9M557 834l10.9 10.9M557 845l10.9 -10.9"/><path d="M576 833.5h10.9M581.5 828v10.9M576 828l10.9 10.9M576 839l10.9 -10.9"/><path d="M594 835.5h10.9M599.5 830v10.9M594 830l10.9 10.9M594 841l10.9 -10.9"/><path d="M612 858.5h10.9M617.5 853v10.9M612 853l10.9 10.9M612 864l10.9 -10.9"/><path d="M631 856.5h10.9M636.5 851v10.9M631 851l10.9 10.9M631 862l10.9 -10.9"/><path d="M649 831.5h10.9M654.5 826v10.9M649 826l10.9 10.9M649 837l10.9 -10.9"/><path d="M668 851.5h10.9M673.5 846v10.9M668 846l10.9 10.9M668 857l10.9 -10.9"/><path d="M686 865.5h10.9M691.5 860v10.9M686 860l10.9 10.9M686 871l10.9 -10.9"/><path d="M705 869.5h10.9M710.5 864v10.9M705 864l10.9 10.9M705 875l10.9 -10.9"/><path d="M723 873.5h10.9M728.5 868v10.9M723 868l10.9 10.9M723 879l10.9 -10.9"/><path d="M742 872.5h10.9M747.5 867v10.9M742 867l10.9 10.9M742 878l10.9 -10.9"/><path d="M760 876.5h10.9M765.5 871v10.9M760 871l10.9 10.9M760 882l10.9 -10.9"/><path d="M779 859.5h10.9M784.5 854v10.9M779 854l10.9 10.9M779 865l10.9 -10.9"/><path d="M797 823.5h10.9M802.5 818v10.9M797 818l10.9 10.9M797 829l10.9 -10.9"/><path d="M815 845.5h10.9M820.5 840v10.9M815 840l10.9 10.9M815 851l10.9 -10.9"/><path d="M834 852.5h10.9M839.5 847v10.9M834 847l10.9 10.9M834 858l10.9 -10.9"/><path d="M852 863.5h10.9M857.5 858v10.9M852 858l10.9 10.9M852 869l10.9 -10.9"/><path d="M871 867.5h10.9M876.5 862v10.9M871 862l10.9 10.9M871 873l10.9 -10.9"/><path d="M889 869.5h10.9M894.5 864v10.9M889 864l10.9 10.9M889 875l10.9 -10.9"/><path d="M908 884.5h10.9M913.5 879v10.9M908 879l10.9 10.9M908 890l10.9 -10.9"/><path d="M926 878.5h10.9M931.5 873v10.9M926 873l10.9 10.9M926 884l10.9 -10.9"/><path d="M945 854.5h10.9M950.5 849v10.9M945 849l10.9 10.9M945 860l10.9 -10.9"/><path d="M963 860.5h10.9M968.5 855v10.9M963 855l10.9 10.9M963 866l10.9 -10.9"/><path d="M982 865.5h10.9M987.5 860v10.9M982 860l10.9 10.9M982 871l10.9 -10.9"/><path d="M1000 869.5h10.9M1005.5 864v10.9M1000 864l10.9 10.9M1000 875l10.9 -10.9"/><path d="M1018 869.5h10.9M1023.5 864v10.9M1018 864l10.9 10.9M1018 875l10.9 -10.9"/><path d="M1037 876.5h10.9M1042.5 871v10.9M1037 871l10.9 10.9M1037 882l10.9 -10.9"/><path d="M1055 891.5h10.9M1060.5 886v10.9M1055 886l10.9 10.9M1055 897l10.9 -10.9"/><path d="M1074 883.5h10.9M1079.5 878v10.9M1074 878l10.9 10.9M1074 889l10.9 -10.9"/><path d="M1092 853.5h10.9M1097.5 848v10.9M1092 848l10.9 10.9M1092 859l10.9 -10.9"/><path d="M1111 861.5h10.9M1116.5 856v10.9M1111 856l10.9 10.9M1111 867l10.9 -10.9"/><path d="M1129 864.5h10.9M1134.5 859v10.9M1129 859l10.9 10.9M1129 870l10.9 -10.9"/><path d="M1148 866.5h10.9M1153.5 861v10.9M1148 861l10.9 10.9M1148 872l10.9 -10.9"/><path d="M1166 872.5h10.9M1171.5 867v10.9M1166 867l10.9 10.9M1166 878l10.9 -10.9"/><path d="M1184 877.5h10.9M1189.5 872v10.9M1184 872l10.9 10.9M1184 883l10.9 -10.9"/><path d="M1203 890.5h10.9M1208.5 885v10.9M1203 885l10.9 10.9M1203 896l10.9 -10.9"/><path d="M1221 884.5h10.9M1226.5 879v10.9M1221 879l10.9 10.9M1221 890l10.9 -10.9"/><path d="M1240 855.5h10.9M1245.5 850v10.9M1240 850l10.9 10.9M1240 861l10.9 -10.9"/><path d="M1258 860.5h10.9M1263.5 855v10.9M1258 855l10.9 10.9M1258 866l10.9 -10.9"/><path d="M1277 865.5h10.9M1282.5 860v10.9M1277 860l10.9 10.9M1277 871l10.9 -10.9"/><path d="M1295 865.5h10.9M1300.5 860v10.9M1295 860l10.9 10.9M1295 871l10.9 -10.9"/><path d="M1314 867.5h10.9M1319.5 862v10.9M1314 862l10.9 10.9M1314 873l10.9 -10.9"/><path d="M1332 873.5h10.9M1337.5 868v10.9M1332 868l10.9 10.9M1332 879l10.9 -10.9"/><path d="M1351 881.5h10.9M1356.5 876v10.9M1351 876l10.9 10.9M1351 887l10.9 -10.9"/><path d="M1369 865.5h10.9M1374.5 860v10.9M1369 860l10.9 10.9M1369 871l10.9 -10.9"/><path d="M1387 832.5h10.9M1392.5 827v10.9M1387 827l10.9 10.9M1387 838l10.9 -10.9"/><path d="M1406 853.5h10.9M1411.5 848v10.9M1406 848l10.9 10.9M1406 859l10.9 -10.9"/><path d="M1443 861.5h10.9M1448.5 856v10.9M1443 856l10.9 10.9M1443 867l10.9 -10.9"/>
</g>
<rect x="125.5" y="84.5" width="1329" height="826" fill="none" stroke="#000" stroke-width="1.1"/>
<text x="96.3" y="919.2" font-size="25" textLength="15" lengthAdjust="spacingAndGlyphs">0</text>
<text x="81.3" y="781.2" font-size="25" textLength="30" lengthAdjust="spacingAndGlyphs">20</text>
<text x="81.3" y="643.2" font-size="25" textLength="30" lengthAdjust="spacingAndGlyphs">40</text>
<text x="81.3" y="506.2" font-size="25" textLength="30" lengthAdjust="spacingAndGlyphs">60</text>
<text x="81.3" y="368.2" font-size="25" textLength="30" lengthAdjust="spacingAndGlyphs">80</text>
<text x="66.3" y="230.2" font-size="25" textLength="45" lengthAdjust="spacingAndGlyphs">100</text>
<text x="66.3" y="93.2" font-size="25" textLength="45" lengthAdjust="spacingAndGlyphs">120</text>
<text x="91.7" y="947" font-size="25" textLength="68" lengthAdjust="spacingAndGlyphs">12/16</text>
<text x="239.7" y="947" font-size="25" textLength="68" lengthAdjust="spacingAndGlyphs">12/17</text>
<text x="387.7" y="947" font-size="25" textLength="68" lengthAdjust="spacingAndGlyphs">12/18</text>
<text x="534.7" y="947" font-size="25" textLength="68" lengthAdjust="spacingAndGlyphs">12/19</text>
<text x="682.7" y="947" font-size="25" textLength="68" lengthAdjust="spacingAndGlyphs">12/20</text>
<text x="830.7" y="947" font-size="25" textLength="68" lengthAdjust="spacingAndGlyphs">12/21</text>
<text x="977.7" y="947" font-size="25" textLength="68" lengthAdjust="spacingAndGlyphs">12/22</text>
<text x="1125.7" y="947" font-size="25" textLength="68" lengthAdjust="spacingAndGlyphs">12/23</text>
<text x="1272.7" y="947" font-size="25" textLength="68" lengthAdjust="spacingAndGlyphs">12/24</text>
<text x="1420.7" y="947" font-size="25" textLength="68" lengthAdjust="spacingAndGlyphs">12/25</text>
<text x="210.5" y="51.4" font-size="25" font-weight="bold" textLength="43" lengthAdjust="spacingAndGlyphs">Big</text><text x="261.5" y="51.4" font-size="25" font-weight="bold" textLength="49" lengthAdjust="spacingAndGlyphs">Sky</text><text x="318.5" y="51.4" font-size="25" font-weight="bold" textLength="64" lengthAdjust="spacingAndGlyphs">Lone</text><text x="390.5" y="51.4" font-size="25" font-weight="bold" textLength="126" lengthAdjust="spacingAndGlyphs">Mountain</text><text x="524.5" y="51.4" font-size="25" font-weight="bold" textLength="10" lengthAdjust="spacingAndGlyphs">-</text><text x="542.5" y="51.4" font-size="25" font-weight="bold" textLength="52" lengthAdjust="spacingAndGlyphs">Tier</text><text x="602.5" y="51.4" font-size="25" font-weight="bold" textLength="17" lengthAdjust="spacingAndGlyphs">3</text><text x="627.5" y="51.4" font-size="25" font-weight="bold" textLength="10" lengthAdjust="spacingAndGlyphs">-</text><text x="645.5" y="51.4" font-size="25" font-weight="bold" textLength="108" lengthAdjust="spacingAndGlyphs">Fosberg</text><text x="761.5" y="51.4" font-size="25" font-weight="bold" textLength="52" lengthAdjust="spacingAndGlyphs">Fire</text><text x="821.5" y="51.4" font-size="25" font-weight="bold" textLength="114" lengthAdjust="spacingAndGlyphs">Weather</text><text x="943.5" y="51.4" font-size="25" font-weight="bold" textLength="74" lengthAdjust="spacingAndGlyphs">Index</text><text x="1025.5" y="51.4" font-size="25" font-weight="bold" textLength="10" lengthAdjust="spacingAndGlyphs">-</text><text x="1043.5" y="51.4" font-size="25" font-weight="bold" textLength="154" lengthAdjust="spacingAndGlyphs">12/17/2025</text><text x="1205.5" y="51.4" font-size="25" font-weight="bold" textLength="48" lengthAdjust="spacingAndGlyphs">00z</text><text x="1261.5" y="51.4" font-size="25" font-weight="bold" textLength="109" lengthAdjust="spacingAndGlyphs">forecast</text>
<text x="758.2" y="989" font-size="25" font-weight="bold" textLength="63" lengthAdjust="spacingAndGlyphs">Date</text>
<g transform="translate(34.6 702.9) rotate(-90)"><text x="0" y="0" font-size="25" font-weight="bold" textLength="108" lengthAdjust="spacingAndGlyphs">Fosberg</text><text x="116" y="0" font-size="25" font-weight="bold" textLength="52" lengthAdjust="spacingAndGlyphs">Fire</text><text x="176" y="0" font-size="25" font-weight="bold" textLength="114" lengthAdjust="spacingAndGlyphs">Weather</text><text x="298" y="0" font-size="25" font-weight="bold" textLength="74" lengthAdjust="spacingAndGlyphs">Index</text><text x="380" y="0" font-size="25" font-weight="bold" textLength="32" lengthAdjust="spacingAndGlyphs">(-)</text></g>
<text x="1247.6" y="118.8" font-size="25" textLength="91" lengthAdjust="spacingAndGlyphs">ECMWF</text>
<g fill="#0000cd"><rect x="1384" y="105" width="9" height="9"/></g>
<text x="1269.6" y="146.8" font-size="25" textLength="69" lengthAdjust="spacingAndGlyphs">HRRR</text>
<g fill="#006400"><circle cx="1388.5" cy="137.5" r="5.45"/></g>
<text x="1215.6" y="174.8" font-size="25" textLength="55" lengthAdjust="spacingAndGlyphs">NAM</text><text x="1278.6" y="174.8" font-size="25" textLength="15" lengthAdjust="spacingAndGlyphs">3</text><text x="1301.6" y="174.8" font-size="25" textLength="37" lengthAdjust="spacingAndGlyphs">km</text>
<g fill="#ff0000"><path d="M1388.5 159.7l5.6 10.3h-11.2z"/></g>
<text x="1200.6" y="202.8" font-size="25" textLength="55" lengthAdjust="spacingAndGlyphs">NAM</text><text x="1263.6" y="202.8" font-size="25" textLength="30" lengthAdjust="spacingAndGlyphs">12</text><text x="1301.6" y="202.8" font-size="25" textLength="37" lengthAdjust="spacingAndGlyphs">km</text>
<g fill="#000000"><path d="M1382.9 189h11.2l-5.6 10.3z"/></g>
<text x="1202.6" y="230.8" font-size="25" textLength="48" lengthAdjust="spacingAndGlyphs">GFS</text><text x="1258.6" y="230.8" font-size="25" textLength="80" lengthAdjust="spacingAndGlyphs">0.125°</text>
<g fill="#c0c0c0"><path d="M1388.5 216l5.5 5.5l-5.5 5.5l-5.5-5.5z"/></g>
<text x="1202.6" y="258.8" font-size="25" textLength="48" lengthAdjust="spacingAndGlyphs">GFS</text><text x="1258.6" y="258.8" font-size="25" textLength="80" lengthAdjust="spacingAndGlyphs">0.250°</text>
<g fill="#87ceeb"><path d="M1388.5 255.1L1383.2 251.2L1385.2 245L1391.8 245L1393.8 251.2z"/></g>
<text x="1283.6" y="286.8" font-size="25" textLength="55" lengthAdjust="spacingAndGlyphs">NBM</text>
<g stroke="#ffa500" stroke-width="1" fill="none"><path d="M1383 277.5h10.9M1388.5 272.1v10.9M1383 272.1l10.9 10.9M1383 282.9l10.9 -10.9"/></g>
</svg>
</body></html>
